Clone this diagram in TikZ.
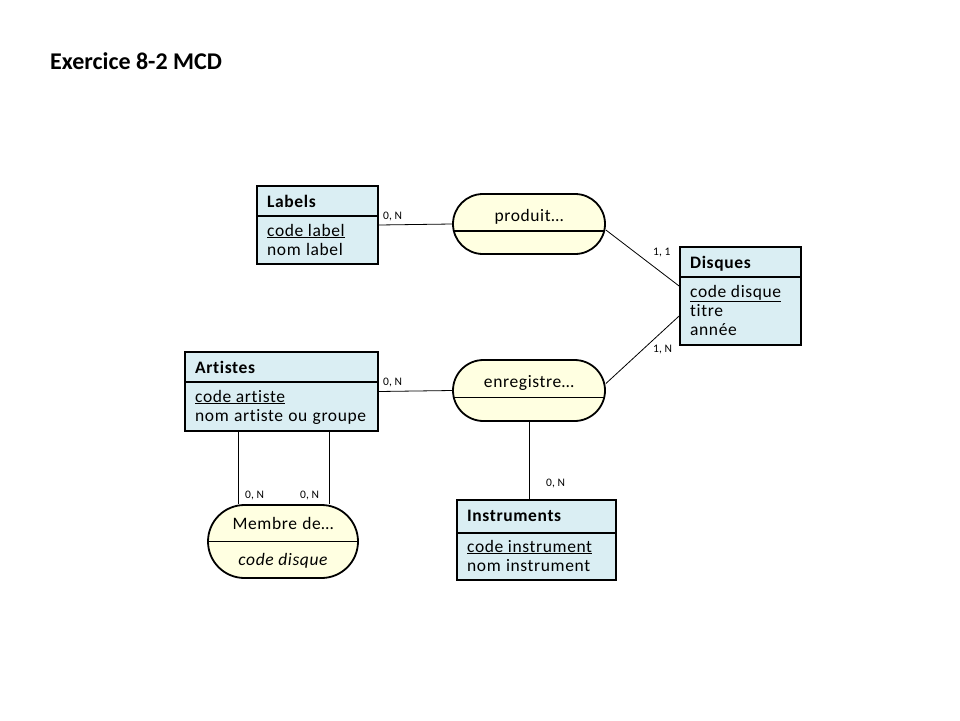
\documentclass[tikz,border=0pt]{standalone}
\usepackage{fontspec}
\setmainfont[Ligatures=CommonOff]{Carlito}
\newfontfamily\widefont[LetterSpace=3.5,Ligatures=CommonOff]{Carlito}
\definecolor{entfill}{HTML}{DAEEF3}
\definecolor{assocfill}{HTML}{FFFFE1}
\newcommand\wsp{\hspace{0.3em}}
\begin{document}
\begin{tikzpicture}[x=1pt,y=-1pt,
  entity/.style={draw=black, line width=1.8pt, fill=entfill, inner sep=0pt},
  assoc/.style={draw=black, line width=1.8pt, fill=assocfill, inner sep=0pt},
  divline/.style={line width=1.8pt},
  link/.style={line width=0.8pt},
  card/.style={font=\fontsize{11.5}{13}\selectfont, inner sep=0pt, anchor=base west},
  ename/.style={font=\widefont\bfseries\fontsize{17.5}{20}\selectfont, inner sep=0pt, anchor=base west},
  attr/.style={font=\widefont\fontsize{17.5}{20}\selectfont, inner sep=0pt, anchor=base west},
  aname/.style={font=\widefont\fontsize{17.5}{20}\selectfont, inner sep=0pt, anchor=base},
  title/.style={font=\bfseries\fontsize{24}{28}\selectfont, inner sep=0pt, anchor=base west}]
\useasboundingbox[fill=white] (0,0) rectangle (960,720);

\node[title] (ttl) at (50,69) {Exercice 8-2 MCD};

% entities
\node[entity, minimum width=121pt, minimum height=78pt] (labels) at (317.5,225) {};
\draw[divline] (labels.west |- 0,216) -- (labels.east |- 0,216);
\node[ename] (labels-n) at (267,207) {Labels};
\node[attr] (labels-a1) at (267,236) {\underline{code label}};
\node[attr] (labels-a2) at (267,255) {nom\wsp label};

\node[entity, minimum width=121pt, minimum height=98pt] (disques) at (740.5,296) {};
\draw[divline] (disques.west |- 0,277) -- (disques.east |- 0,277);
\node[ename] (disques-n) at (690,268) {Disques};
\node[attr] (disques-a1) at (690,297) {\underline{code disque}};
\node[attr] (disques-a2) at (690,316) {titre};
\node[attr] (disques-a3) at (690,335) {année};

\node[entity, minimum width=193pt, minimum height=79pt] (artistes) at (281.5,391.5) {};
\draw[divline] (artistes.west |- 0,382) -- (artistes.east |- 0,382);
\node[ename] (artistes-n) at (195,373) {Artistes};
\node[attr] (artistes-a1) at (195,402) {\underline{code artiste}};
\node[attr] (artistes-a2) at (195,421) {nom\wsp artiste\wsp ou\wsp groupe};

\node[entity, minimum width=159pt, minimum height=80pt] (instruments) at (536.5,540) {};
\draw[divline] (instruments.west |- 0,533) -- (instruments.east |- 0,533);
\node[ename] (instruments-n) at (467,521) {Instruments};
\node[attr] (instruments-a1) at (467,552) {\underline{code instrument}};
\node[attr] (instruments-a2) at (467,571) {nom\wsp instrument};

% associations
\node[assoc, minimum width=152pt, minimum height=60pt, rounded corners=30pt] (produit) at (529,224) {};
\draw[divline] ([xshift=0.8pt]produit.west |- 0,231) -- ([xshift=-0.8pt]produit.east |- 0,231);
\node[aname] (produit-n) at (529,221) {produit…};

\node[assoc, minimum width=152pt, minimum height=61pt, rounded corners=30.5pt] (enregistre) at (529,390.5) {};
\draw[divline] ([xshift=0.8pt]enregistre.west |- 0,397.5) -- ([xshift=-0.8pt]enregistre.east |- 0,397.5);
\node[aname] (enregistre-n) at (529,387) {enregistre…};

\node[assoc, minimum width=150pt, minimum height=73pt, rounded corners=36.5pt] (membre) at (283,541.5) {};
\draw[divline] (membre.west) -- (membre.east);
\node[aname] (membre-n) at (283,529) {Membre\wsp de…};
\node[aname, font=\widefont\itshape\fontsize{17.5}{20}\selectfont] (membre-a1) at (283,565) {code disque};

% links
\draw[link] (labels.east) -- (produit.west);
\draw[link] ([yshift=-6pt]produit.east) -- ([yshift=10pt]disques.west);
\draw[link] ([yshift=7pt]enregistre.east) -- ([yshift=-20pt]disques.west);
\draw[link] (artistes.east) -- (enregistre.west);
\draw[link] (enregistre.south) -- (enregistre.south |- instruments.north);
\draw[link] ([xshift=-43.5pt]artistes.south) coordinate (m1) -- (m1 |- membre.north);
\draw[link] ([xshift=47.5pt]artistes.south) coordinate (m2) -- (m2 |- membre.north);

% cardinalities
\node[card] (c1) at (383,219) {0, N};
\node[card] (c2) at (653,255) {1, 1};
\node[card] (c3) at (653,352) {1, N};
\node[card] (c4) at (383,385) {0, N};
\node[card] (c5) at (546,486) {0, N};
\node[card] (c6) at (245,498) {0, N};
\node[card] (c7) at (300,498) {0, N};
\end{tikzpicture}
\end{document}
